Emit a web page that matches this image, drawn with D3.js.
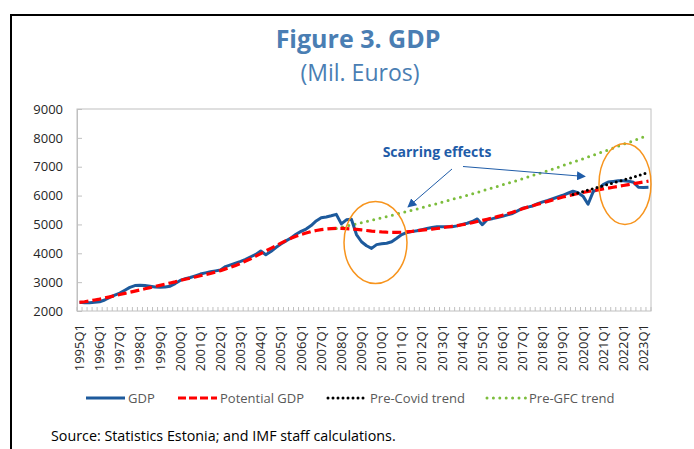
<!DOCTYPE html>
<html>
<head>
<meta charset="utf-8">
<script src="https://cdn.jsdelivr.net/npm/d3@7"></script>
<style>
  body { margin: 0; background: #fff; }
  svg { display: block; }
</style>
</head>
<body>
<script>
// quarters 1995Q1 .. 2023Q2
const years = d3.range(1995, 2024);
const quarters = years.flatMap(y => [1, 2, 3, 4].map(q => y + "Q" + q)).slice(0, 114);

// GDP, mil. euros
const gdp = [
  2300, 2290, 2290, 2300, 2320, 2380, 2470, 2550, 2620, 2720, 2820, 2880,
  2890, 2880, 2860, 2830, 2820, 2830, 2860, 2950, 3060, 3120, 3160, 3220,
  3280, 3320, 3360, 3390, 3420, 3540, 3600, 3660, 3720, 3790, 3880, 3960,
  4080, 3950, 4060, 4200, 4320, 4430, 4530, 4660, 4760, 4840, 4960, 5120,
  5230, 5260, 5300, 5350, 5020, 5160, 5180, 4650, 4400, 4260, 4170, 4300,
  4330, 4350, 4400, 4520, 4650, 4720, 4750, 4780, 4820, 4860, 4890, 4920,
  4920, 4920, 4920, 4950, 5000, 5040, 5100, 5190, 4990, 5170, 5200, 5240,
  5280, 5330, 5380, 5470, 5560, 5600, 5640, 5720, 5780, 5830, 5890, 5950,
  6010, 6080, 6150, 6100, 5980, 5700, 6130, 6230, 6380, 6470, 6490, 6510,
  6510, 6500, 6460, 6290, 6280, 6290
];

const potential = [
  2300, 2320, 2350, 2380, 2410, 2450, 2490, 2530, 2570, 2610, 2650, 2690,
  2730, 2770, 2810, 2850, 2890, 2930, 2970, 3010, 3060, 3100, 3140, 3180,
  3220, 3260, 3300, 3350, 3400, 3460, 3520, 3580, 3650, 3730, 3810, 3900,
  3990, 4080, 4170, 4260, 4350, 4440, 4520, 4590, 4650, 4700, 4750, 4790,
  4820, 4840, 4855, 4860, 4860, 4855, 4845, 4830, 4810, 4790, 4770, 4755,
  4740, 4730, 4725, 4725, 4730, 4745, 4760, 4780, 4800, 4820, 4840, 4860,
  4885, 4910, 4935, 4960, 4990, 5020, 5060, 5100, 5140, 5180, 5220, 5270,
  5320, 5370, 5420, 5480, 5540, 5600, 5650, 5700, 5750, 5800, 5850, 5900,
  5950, 5990, 6030, 6070, 6110, 6140, 6170, 6200, 6230, 6260, 6290, 6320,
  6350, 6380, 6410, 6440, 6470, 6500
];

// Pre-GFC trend, from 2007Q4
const preGfcStart = "2007Q4";
const preGfc = [
  4860, 4900, 4940, 4980, 5020, 5060, 5100, 5145, 5185, 5230, 5270, 5315,
  5360, 5400, 5445, 5490, 5535, 5580, 5630, 5675, 5720, 5770, 5815, 5865,
  5915, 5960, 6010, 6060, 6110, 6160, 6215, 6265, 6320, 6370, 6425, 6475,
  6530, 6585, 6640, 6695, 6750, 6810, 6865, 6920, 6980, 7040, 7095, 7155,
  7215, 7275, 7335, 7395, 7460, 7520, 7580, 7645, 7710, 7775, 7840, 7900,
  7970, 8035, 8100
];

// Pre-Covid trend, from 2019Q3
const preCovidStart = "2019Q3";
const preCovid = [
  6040, 6090, 6140, 6190, 6240, 6290, 6340, 6390, 6440, 6490, 6540, 6590,
  6640, 6690, 6750, 6810
];

const yTicks = [2000, 3000, 4000, 5000, 6000, 7000, 8000, 9000];

const W = 694, H = 449;
const plot = { left: 77, right: 651, top: 109, bottom: 311 };

const svg = d3.select("body").append("svg")
  .attr("width", W)
  .attr("height", H)
  .style("font-family", "'Open Sans', sans-serif");

// outer frame (top + left)
svg.append("path")
  .attr("d", `M11,${H} L11,15 L${W},15`)
  .attr("fill", "none")
  .attr("stroke", "#000")
  .attr("stroke-width", 2);

// titles
svg.append("text")
  .attr("x", 358).attr("y", 48)
  .attr("text-anchor", "middle")
  .attr("font-size", 25).attr("font-weight", "bold")
  .attr("fill", "#4a7eb3")
  .text("Figure 3. GDP");
svg.append("text")
  .attr("x", 360).attr("y", 81)
  .attr("text-anchor", "middle")
  .attr("font-size", 23)
  .attr("fill", "#4a7eb3")
  .text("(Mil. Euros)");

const x = d3.scalePoint()
  .domain(quarters)
  .range([plot.left, plot.right])
  .padding(0.5);

const y = d3.scaleLinear()
  .domain([2000, 9000])
  .range([plot.bottom, plot.top]);

// plot border
svg.append("rect")
  .attr("x", plot.left).attr("y", plot.top)
  .attr("width", plot.right - plot.left)
  .attr("height", plot.bottom - plot.top)
  .attr("fill", "none")
  .attr("stroke", "#c0c0c0");

// y axis
const yAxis = svg.append("g")
  .attr("transform", `translate(${plot.left},0)`)
  .call(d3.axisLeft(y).tickValues(yTicks).tickFormat(d3.format("d"))
    .tickSizeInner(-5).tickSizeOuter(0).tickPadding(14));
yAxis.select(".domain").attr("stroke", "#c0c0c0");
yAxis.selectAll(".tick line").attr("stroke", "#c0c0c0");
yAxis.selectAll("text")
  .attr("font-size", 13)
  .attr("font-family", "'Open Sans', sans-serif")
  .attr("fill", "#262626");

// x axis: small ticks on band edges, labels every 4 quarters
const step = x.step();
const xAxisG = svg.append("g");
xAxisG.selectAll("line.tk")
  .data(quarters.concat(["end"]))
  .enter().append("line")
  .attr("class", "tk")
  .attr("x1", (d, i) => plot.left + i * step)
  .attr("x2", (d, i) => plot.left + i * step)
  .attr("y1", plot.bottom)
  .attr("y2", plot.bottom - 4)
  .attr("stroke", "#c0c0c0");

xAxisG.selectAll("text")
  .data(quarters.filter(q => q.endsWith("Q1")))
  .enter().append("text")
  .attr("transform", d => `translate(${x(d) + 4.5},${plot.bottom + 13}) rotate(-90)`)
  .attr("text-anchor", "end")
  .attr("font-size", 13)
  .attr("fill", "#262626")
  .text(d => d);

// series
const line = d3.line()
  .x(d => x(d.q))
  .y(d => y(d.v));

const toPts = (vals, start) => {
  const s = quarters.indexOf(start);
  return vals.map((v, i) => ({ q: quarters[s + i], v: v }));
};

const gdpPts = toPts(gdp, quarters[0]);
const potPts = toPts(potential, quarters[0]);
const gfcPts = toPts(preGfc, preGfcStart);
const covPts = toPts(preCovid, preCovidStart);

svg.append("path")
  .datum(gfcPts)
  .attr("d", line)
  .attr("fill", "none")
  .attr("stroke", "#7cbd3c")
  .attr("stroke-width", 3)
  .attr("stroke-linecap", "round")
  .attr("stroke-dasharray", "0,6.4");

svg.append("path")
  .datum(gdpPts)
  .attr("d", line)
  .attr("fill", "none")
  .attr("stroke", "#1d5a9c")
  .attr("stroke-width", 3)
  .attr("stroke-linejoin", "round");

svg.append("path")
  .datum(potPts)
  .attr("d", line)
  .attr("fill", "none")
  .attr("stroke", "#ff0000")
  .attr("stroke-width", 3.2)
  .attr("stroke-dasharray", "9,4");

svg.append("path")
  .datum(covPts)
  .attr("d", line)
  .attr("fill", "none")
  .attr("stroke", "#000")
  .attr("stroke-width", 3)
  .attr("stroke-linecap", "round")
  .attr("stroke-dasharray", "0,5");

// annotations
const orange = "#f7941d";
svg.append("ellipse")
  .attr("cx", 375.5).attr("cy", 242.5).attr("rx", 31.5).attr("ry", 41)
  .attr("fill", "none").attr("stroke", orange).attr("stroke-width", 1.5);
svg.append("ellipse")
  .attr("cx", 625).attr("cy", 184).attr("rx", 26).attr("ry", 40.5)
  .attr("fill", "none").attr("stroke", orange).attr("stroke-width", 1.5);

const annBlue = "#1f5ca8";
svg.append("defs").append("marker")
  .attr("id", "arr")
  .attr("viewBox", "0 0 10 10")
  .attr("refX", 9).attr("refY", 5)
  .attr("markerWidth", 9).attr("markerHeight", 9)
  .attr("markerUnits", "userSpaceOnUse")
  .attr("orient", "auto")
  .append("path")
  .attr("d", "M0,0 L10,5 L0,10 z")
  .attr("fill", annBlue);

svg.append("line")
  .attr("x1", 452).attr("y1", 169).attr("x2", 408).attr("y2", 207)
  .attr("stroke", annBlue).attr("stroke-width", 1)
  .attr("marker-end", "url(#arr)");
svg.append("line")
  .attr("x1", 463).attr("y1", 166.5).attr("x2", 585).attr("y2", 176.5)
  .attr("stroke", annBlue).attr("stroke-width", 1)
  .attr("marker-end", "url(#arr)");

svg.append("text")
  .attr("x", 437).attr("y", 157)
  .attr("text-anchor", "middle")
  .attr("font-size", 14).attr("font-weight", "bold")
  .attr("fill", annBlue)
  .text("Scarring effects");

// legend
const legend = [
  { name: "GDP", color: "#1d5a9c", dash: null, cap: "butt", x: 86 },
  { name: "Potential GDP", color: "#ff0000", dash: "8,3", cap: "butt", x: 178 },
  { name: "Pre-Covid trend", color: "#000", dash: "0,5", cap: "round", x: 328 },
  { name: "Pre-GFC trend", color: "#7cbd3c", dash: "0,6.4", cap: "round", x: 487 }
];
const lg = svg.append("g").selectAll("g").data(legend).enter().append("g")
  .attr("transform", d => `translate(${d.x},398)`);
lg.append("line")
  .attr("x1", 0).attr("x2", 39)
  .attr("stroke", d => d.color)
  .attr("stroke-width", 3)
  .attr("stroke-linecap", d => d.cap)
  .attr("stroke-dasharray", d => d.dash);
lg.append("text")
  .attr("x", 42).attr("y", 4.5)
  .attr("font-size", 13)
  .attr("fill", "#595959")
  .text(d => d.name);

// source
svg.append("text")
  .attr("x", 51).attr("y", 441)
  .attr("font-size", 14.3)
  .attr("fill", "#000")
  .text("Source: Statistics Estonia; and IMF staff calculations.");
</script>
</body>
</html>
